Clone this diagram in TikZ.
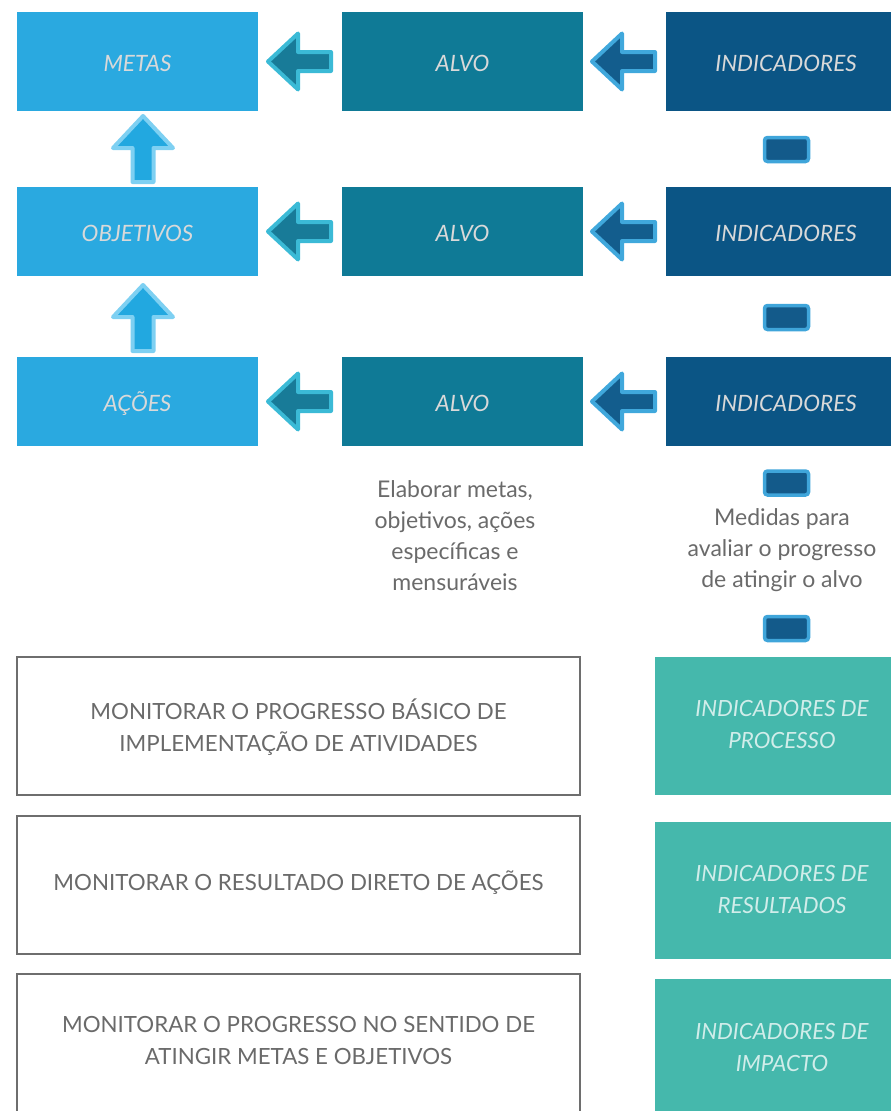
\documentclass[tikz,border=0pt]{standalone}
\usepackage{fontspec}
\setmainfont{Lato}
\definecolor{cMeta}{HTML}{2AA9E0}
\definecolor{cAlvo}{HTML}{0F7A96}
\definecolor{cInd}{HTML}{0B5585}
\definecolor{cTeal}{HTML}{45B8AC}
\definecolor{cArA}{HTML}{187B98}
\definecolor{cArAe}{HTML}{3BBAD6}
\definecolor{cArB}{HTML}{135D8D}
\definecolor{cArBe}{HTML}{40A8DC}
\definecolor{cUp}{HTML}{22A8E0}
\definecolor{cUpe}{HTML}{7ED0F2}
\definecolor{cDash}{HTML}{135A8A}
\definecolor{cDashe}{HTML}{3FA5DA}
\definecolor{cTxt}{HTML}{6A6A6A}
\definecolor{cBord}{HTML}{6E6E6E}
\tikzset{
  box/.style={rectangle, inner sep=0pt, text=white!85!black, font=\fontsize{22.5}{30}\selectfont\itshape, align=center},
  bigtxt/.style={text=cTxt, inner sep=0pt, font=\fontsize{22.3}{32}\selectfont, align=center},
  tealtxt/.style={text=white!75!cTeal, inner sep=0pt, font=\fontsize{22.3}{32}\selectfont\itshape, align=center},
  note/.style={text=cTxt, font=\fontsize{23}{31}\selectfont, align=center, inner sep=0pt},
  dashbox/.style={rectangle, rounded corners=3pt, fill=cDash, draw=cDashe, line width=3.5pt, minimum width=44pt, minimum height=24pt, inner sep=0pt},
  pics/larrow/.style n args={2}{code={
    \draw[fill=#1, draw=#2, line width=4pt, line join=round]
      (-32,0) -- (-2,-28) -- (-2,-9.5) -- (31,-9.5) -- (31,9.5) -- (-2,9.5) -- (-2,28) -- cycle;}},
  pics/uarrow/.style={code={
    \draw[fill=cUp, draw=cUpe, line width=4pt, line join=round]
      (0,-33) -- (30,-1) -- (10.5,-1) -- (10.5,33) -- (-10.5,33) -- (-10.5,-1) -- (-30,-1) -- cycle;}}
}
\begin{document}
\begin{tikzpicture}[x=1pt, y=-1pt]
\useasboundingbox (0,0) rectangle (891,1111);
% row boxes
\foreach \r/\ya/\yb/\lab in {1/12/111/METAS, 2/187/276/OBJETIVOS, 3/357/446/AÇÕES}{
  \fill[cMeta] (17,\ya) rectangle (258,\yb);
  \node[box] (m\r) at (137.5,{(\ya+\yb)/2+2}) {\lab};
  \fill[cAlvo] (342,\ya) rectangle (583,\yb);
  \node[box] (a\r) at (462.5,{(\ya+\yb)/2+2}) {ALVO};
  \fill[cInd] (666,\ya) rectangle (891,\yb);
  \node[box] (i\r) at (786,{(\ya+\yb)/2+2}) {INDICADORES};
  \pic at (300,{(\ya+\yb)/2}) {larrow={cArA}{cArAe}};
  \pic at (624,{(\ya+\yb)/2}) {larrow={cArB}{cArBe}};
}
\pic at (143,149) {uarrow};
\pic at (143,318) {uarrow};
% dash boxes
\node[dashbox] (d1) at (786.5,149.5) {};
\node[dashbox] (d2) at (786.5,317.5) {};
\node[dashbox] (d3) at (786.5,483) {};
\node[dashbox] (d4) at (786.5,628.5) {};
% notes
\node[note] (n1) at (455,536) {Elaborar metas,\\objetivos, ações\\específicas e\\mensuráveis};
\node[note] (n2) at (782,550) {Medidas para\\avaliar o progresso\\de atingir o alvo};
% bottom boxes
\draw[cBord, line width=2.2pt] (17,657) rectangle (580,795);
\node[bigtxt] (b1) at (298.5,727) {MONITORAR O PROGRESSO BÁSICO DE\\IMPLEMENTAÇÃO DE ATIVIDADES};
\draw[cBord, line width=2.2pt] (17,816) rectangle (580,954);
\node[bigtxt] (b2) at (298.5,883) {MONITORAR O RESULTADO DIRETO DE AÇÕES};
\draw[cBord, line width=2.2pt] (17,974) rectangle (580,1120);
\node[bigtxt] (b3) at (298.5,1040) {MONITORAR O PROGRESSO NO SENTIDO DE\\ATINGIR METAS E OBJETIVOS};
\fill[cTeal] (655,657) rectangle (891,795);
\node[tealtxt] (t1) at (782,725) {INDICADORES DE\\PROCESSO};
\fill[cTeal] (655,822) rectangle (891,959);
\node[tealtxt] (t2) at (782,890) {INDICADORES DE\\RESULTADOS};
\fill[cTeal] (655,979) rectangle (891,1111);
\node[tealtxt] (t3) at (782,1047) {INDICADORES DE\\IMPACTO};
\end{tikzpicture}
\end{document}
